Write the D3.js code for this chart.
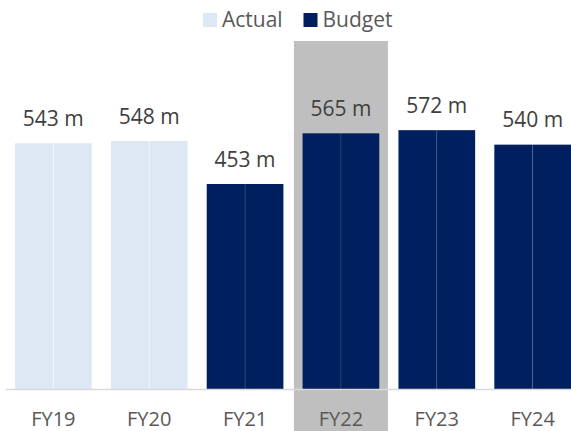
<!DOCTYPE html>
<html>
<head>
<meta charset="utf-8">
<script src="https://cdn.jsdelivr.net/npm/d3@7"></script>
<style>
  body { margin: 0; background: #fff; }
  text { font-family: "Open Sans", sans-serif; }
</style>
</head>
<body>
<div id="chart-area"></div>
<script>
const years = ["FY19", "FY20", "FY21", "FY22", "FY23", "FY24"]
const actual = [543, 548, null, null, null, null]
const budget = [null, null, 453, 565, 572, 540]
const seriesNames = ["Actual", "Budget"]
const highlightYear = "FY22"

const WIDTH = 571
const HEIGHT = 431
const BASE = 389
const COLORS = { Actual: "#dde8f4", Budget: "#001f5f" }

const data = years.map((y, i) => ({
  year: y,
  series: actual[i] != null ? "Actual" : "Budget",
  value: actual[i] != null ? actual[i] : budget[i]
}))

const svg = d3.select("#chart-area").append("svg")
  .attr("width", WIDTH)
  .attr("height", HEIGHT)

const x = d3.scaleBand()
  .domain(years)
  .range([5.4, 580.6])
  .paddingInner(0.2)
  .paddingOuter(0.1)

// each column is drawn as two halves
const xHalf = d3.scaleBand()
  .domain([0, 1])
  .range([0, x.bandwidth()])

const y = d3.scaleLinear()
  .domain([0, 600])
  .range([BASE, BASE - 271.5])

// highlight band behind FY22
const cx = x(highlightYear) + x.bandwidth() / 2
svg.append("rect")
  .attr("x", cx - 47)
  .attr("y", 41)
  .attr("width", 94)
  .attr("height", HEIGHT - 41)
  .attr("fill", "#bfbfbf")

// bars
const bars = svg.selectAll("g.bar")
  .data(data)
  .enter().append("g")
  .attr("class", "bar")
  .attr("transform", d => `translate(${x(d.year)}, 0)`)

bars.selectAll("rect")
  .data(d => [0, 1].map(h => ({ h, d })))
  .enter().append("rect")
  .attr("x", e => xHalf(e.h))
  .attr("y", e => y(e.d.value))
  .attr("width", xHalf.bandwidth())
  .attr("height", e => BASE - y(e.d.value))
  .attr("fill", e => COLORS[e.d.series])

bars.append("line")
  .attr("x1", x.bandwidth() / 2)
  .attr("x2", x.bandwidth() / 2)
  .attr("y1", d => y(d.value))
  .attr("y2", BASE)
  .attr("stroke", "#ffffff")
  .attr("stroke-opacity", d => d.series === "Budget" ? 0.12 : 0.5)
  .attr("stroke-width", 1)

// value labels
svg.selectAll("text.value")
  .data(data)
  .enter().append("text")
  .attr("class", "value")
  .attr("x", d => x(d.year) + x.bandwidth() / 2)
  .attr("y", d => y(d.value) - 17.5)
  .attr("text-anchor", "middle")
  .attr("font-size", "21px")
  .attr("fill", "#404040")
  .text(d => `${d.value} m`)

// x axis
const xAxisCall = d3.axisBottom(x).tickSize(0).tickPadding(0)
const xAxis = svg.append("g")
  .attr("transform", `translate(0, ${BASE})`)
  .call(xAxisCall)
xAxis.select(".domain")
  .attr("d", `M6,0.5H${WIDTH}`)
  .attr("stroke", "#d9d9d9")
  .attr("stroke-width", 1.5)
xAxis.selectAll("text")
  .attr("dy", null)
  .attr("y", 36.5)
  .attr("font-size", "20px")
  .attr("font-family", "Open Sans, sans-serif")
  .attr("fill", "#595959")

// legend
const legendX = { Actual: 203, Budget: 303.5 }
const legend = svg.selectAll("g.legend")
  .data(seriesNames)
  .enter().append("g")
  .attr("class", "legend")
  .attr("transform", d => `translate(${legendX[d]}, 13)`)

legend.append("rect")
  .attr("width", 14)
  .attr("height", 14)
  .attr("fill", d => COLORS[d])

legend.append("text")
  .attr("x", 19)
  .attr("y", 14.3)
  .attr("font-size", "21px")
  .attr("fill", "#595959")
  .text(d => d)
</script>
</body>
</html>
